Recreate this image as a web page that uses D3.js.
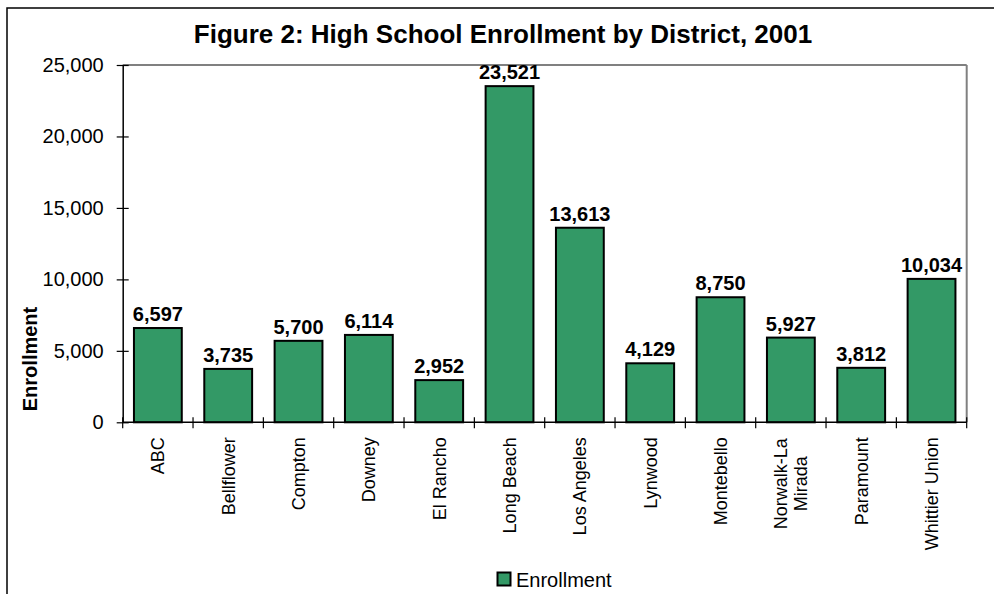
<!DOCTYPE html>
<html><head><meta charset="utf-8">
<script src="https://cdn.jsdelivr.net/npm/d3@7"></script>
<style>body{margin:0;background:#fff}svg{display:block}text{font-family:Arial,"Liberation Sans",sans-serif;fill:#000}</style>
</head><body><svg id="c" width="994" height="594"></svg>
<script>
const categories = ["ABC","Bellflower","Compton","Downey","El Rancho","Long Beach","Los Angeles","Lynwood","Montebello","Norwalk-La Mirada","Paramount","Whittier Union"];
const enrollment = [6597,3735,5700,6114,2952,23521,13613,4129,8750,5927,3812,10034];
const yTicks = [0,5000,10000,15000,20000,25000];
const title = "Figure 2: High School Enrollment by District, 2001";
const yTitle = "Enrollment";
const seriesName = "Enrollment";

const svg = d3.select("#c");
const L = 122.7, R = 966.7, T = 65, B = 422.3;
svg.append("rect").attr("x",7).attr("y",8).attr("width",1000).attr("height",600).attr("fill","none").attr("stroke","#000").attr("stroke-width",1.5);

const x = d3.scaleBand().domain(categories).range([L,R]).paddingInner(0.32).paddingOuter(0.16);
const xc = d3.scaleBand().domain(categories).range([L,R]);
const y = d3.scaleLinear().domain([0,25000]).range([B,T]);

svg.append("text").attr("x",503).attr("y",43).attr("text-anchor","middle").attr("font-size",26).attr("font-weight","bold").text(title);

// plot border top/right gray
svg.append("line").attr("x1",L).attr("x2",R).attr("y1",T).attr("y2",T).attr("stroke","#808080").attr("stroke-width",2);
svg.append("line").attr("x1",R).attr("x2",R).attr("y1",T).attr("y2",B).attr("stroke","#808080").attr("stroke-width",2);

// bars
svg.selectAll("rect.bar").data(enrollment).join("rect").attr("class","bar")
  .attr("x",(d,i)=>x(categories[i])).attr("width",x.bandwidth())
  .attr("y",d=>y(d)).attr("height",d=>B-y(d))
  .attr("fill","#339966").attr("stroke","#000").attr("stroke-width",2);

// y axis
const ya = svg.append("g").attr("transform",`translate(${L},0)`)
  .call(d3.axisLeft(y).tickValues(yTicks).tickFormat(d3.format(",")).tickSizeInner(6).tickSizeOuter(0).tickPadding(13));
ya.select(".domain").attr("stroke","#000").attr("stroke-width",1.5);
ya.selectAll(".tick line").attr("x2",6).attr("x1",-6).attr("stroke","#000").attr("stroke-width",1.2);
ya.selectAll(".tick text").attr("font-size",20).attr("font-family","Arial, 'Liberation Sans', sans-serif").attr("fill","#000");

// x axis
const xa = svg.append("g").attr("transform",`translate(0,${B})`);
xa.append("line").attr("x1",L).attr("x2",R).attr("stroke","#000").attr("stroke-width",1.5);
const edges = d3.range(categories.length+1).map(i=> i<categories.length ? xc(categories[i]) : R);
xa.selectAll("line.tk").data(edges).join("line").attr("class","tk")
  .attr("x1",d=>d).attr("x2",d=>d).attr("y1",-5).attr("y2",6).attr("stroke","#000").attr("stroke-width",1.2);

// x labels
categories.forEach((c,i)=>{
  const cx = xc(c)+xc.bandwidth()/2;
  const g = svg.append("g").attr("transform",`translate(${cx},${B+15}) rotate(-90)`);
  if (c === "Norwalk-La Mirada") {
    const lines = ["Norwalk-La","Mirada"];
    lines.forEach((ln,j)=>{
      g.append("text").attr("x",-46.5).attr("y",(j-0.5)*20).attr("dy","0.35em").attr("text-anchor","middle").attr("font-size",18).text(ln);
    });
  } else {
    g.append("text").attr("x",0).attr("y",0).attr("dy","0.35em").attr("text-anchor","end").attr("font-size",18).text(c);
  }
});

// value labels
svg.selectAll("text.val").data(enrollment).join("text").attr("class","val")
  .attr("x",(d,i)=>xc(categories[i])+xc.bandwidth()/2).attr("y",d=>y(d)-7)
  .attr("text-anchor","middle").attr("font-size",20).attr("font-weight","bold").text(d=>d3.format(",")(d));

// y title
svg.append("text").attr("transform","translate(37,359) rotate(-90)").attr("text-anchor","middle").attr("font-size",20).attr("font-weight","bold").text(yTitle);

// legend
svg.append("rect").attr("x",497.5).attr("y",572.5).attr("width",13).attr("height",13).attr("fill","#339966").attr("stroke","#000").attr("stroke-width",2);
svg.append("text").attr("x",516).attr("y",587).attr("font-size",20).text(seriesName);
</script></body></html>
